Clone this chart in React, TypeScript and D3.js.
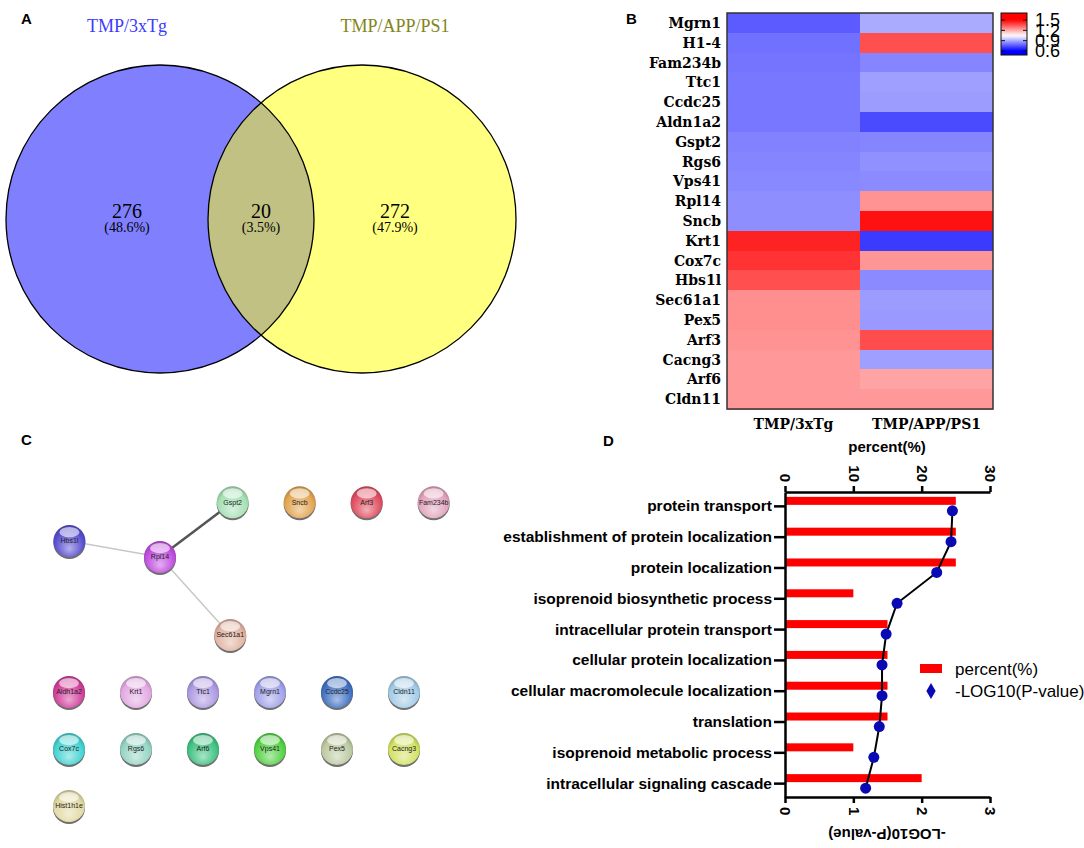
import React, { useEffect, useRef } from 'react';
import * as d3 from 'd3';

// ---- Panel A: Venn ----
const vennSets = ['TMP/3xTg', 'TMP/APP/PS1'];
const vennCounts = [276, 20, 272];
const vennPercents = ['(48.6%)', '(3.5%)', '(47.9%)'];

// ---- Panel B: heatmap ----
const genes = ['Mgrn1', 'H1-4', 'Fam234b', 'Ttc1', 'Ccdc25', 'Aldn1a2', 'Gspt2', 'Rgs6', 'Vps41', 'Rpl14',
  'Sncb', 'Krt1', 'Cox7c', 'Hbs1l', 'Sec61a1', 'Pex5', 'Arf3', 'Cacng3', 'Arf6', 'Cldn11'];
const heatColumns = ['TMP/3xTg', 'TMP/APP/PS1'];
const fc3xTg = [0.76, 0.80, 0.805, 0.81, 0.81, 0.81, 0.83, 0.835, 0.84, 0.85,
  0.85, 1.44, 1.41, 1.36, 1.25, 1.25, 1.24, 1.23, 1.23, 1.23];
const fcAppPs1 = [0.90, 1.36, 0.835, 0.88, 0.875, 0.73, 0.835, 0.855, 0.845, 1.24,
  1.47, 0.705, 1.235, 0.845, 0.875, 0.87, 1.365, 0.88, 1.21, 1.23];
const legendTicks = [1.5, 1.2, 0.9, 0.6];

// ---- Panel C: network ----
const networkNodes = ['Hbs1l', 'Rpl14', 'Gspt2', 'Sec61a1', 'Sncb', 'Arf3', 'Fam234b',
  'Aldh1a2', 'Krt1', 'Ttc1', 'Mgrn1', 'Ccdc25', 'Cldn11',
  'Cox7c', 'Rgs6', 'Arf6', 'Vps41', 'Pex5', 'Cacng3', 'Hist1h1e'];
const networkEdges: [string, string, number][] = [
  ['Hbs1l', 'Rpl14', 0.3],
  ['Rpl14', 'Gspt2', 0.9],
  ['Rpl14', 'Sec61a1', 0.3],
];
const nodePalette = ['#5a4fd0', '#c04ee0', '#a6e0b4', '#e2b4a2', '#e3a552', '#e04f62', '#e2a4bc',
  '#d2409c', '#e2aae2', '#ae9ae2', '#a2a2ea', '#4272c4', '#a4cce8',
  '#44d2d2', '#96d4c4', '#40c282', '#54d244', '#bccaa2', '#d2e262', '#e2daa4'];

// ---- Panel D: GO terms ----
const goTerms = ['protein transport', 'establishment of protein localization', 'protein localization',
  'isoprenoid biosynthetic process', 'intracellular protein transport', 'cellular protein localization',
  'cellular macromolecule localization', 'translation', 'isoprenoid metabolic process',
  'intracellular signaling cascade'];
const goPercent = [25, 25, 25, 10, 15, 15, 15, 15, 10, 20];
const goLogP = [2.45, 2.43, 2.22, 1.64, 1.48, 1.42, 1.42, 1.38, 1.30, 1.18];
const percentTicks = [0, 10, 20, 30];
const logTicks = [0, 1, 2, 3];

const SANS = '"Liberation Sans", Arial, sans-serif';
const SERIF = '"Liberation Serif", "Times New Roman", serif';
const BSERIF = '"DejaVu Serif", serif';

export default function App() {
  const ref = useRef<SVGSVGElement>(null);

  useEffect(() => {
    if (!ref.current) return;
    const svg = d3.select(ref.current);
    svg.selectAll('*').remove();
    const defs = svg.append('defs');

    // panel letters
    const letters: [string, number, number][] = [['A', 21, 24], ['B', 626, 24], ['C', 21, 445], ['D', 603, 446]];
    svg.selectAll('text.letter').data(letters).join('text')
      .attr('class', 'letter')
      .attr('x', d => d[1]).attr('y', d => d[2])
      .style('font-family', SANS).style('font-weight', 'bold').style('font-size', '15px')
      .text(d => d[0]);

    // ================= A: Venn =================
    const venn = svg.append('g');
    const r = 154;
    const vy = 219;
    const vx = d3.scalePoint().domain(vennSets).range([160, 362]);
    const x0 = vx(vennSets[0])!, x1 = vx(vennSets[1])!;

    defs.append('clipPath').attr('id', 'clipLeft')
      .append('circle').attr('cx', x0).attr('cy', vy).attr('r', r);

    venn.append('circle').attr('cx', x0).attr('cy', vy).attr('r', r).attr('fill', '#8080ff');
    venn.append('circle').attr('cx', x1).attr('cy', vy).attr('r', r).attr('fill', '#ffff80');
    venn.append('circle').attr('cx', x1).attr('cy', vy).attr('r', r).attr('fill', '#c1c184')
      .attr('clip-path', 'url(#clipLeft)');
    venn.selectAll('circle.outline').data(vennSets).join('circle')
      .attr('class', 'outline')
      .attr('cx', d => vx(d)!).attr('cy', vy).attr('r', r)
      .attr('fill', 'none').attr('stroke', '#000').attr('stroke-width', 1.3);

    const titleColors = ['#3c3cff', '#84841c'];
    venn.selectAll('text.vtitle').data(vennSets).join('text')
      .attr('class', 'vtitle')
      .attr('x', (d, i) => vx(d)! + (i === 0 ? -33 : 33)).attr('y', 32)
      .attr('text-anchor', 'middle')
      .attr('fill', (d, i) => titleColors[i])
      .style('font-family', SERIF).style('font-size', '18px')
      .text(d => d);

    const regionX = [x0 - 33, (x0 + x1) / 2, x1 + 33];
    venn.selectAll('text.vcount').data(vennCounts).join('text')
      .attr('class', 'vcount')
      .attr('x', (d, i) => regionX[i]).attr('y', 218)
      .attr('text-anchor', 'middle')
      .style('font-family', SERIF).style('font-size', '20px')
      .text(d => d);
    venn.selectAll('text.vpct').data(vennPercents).join('text')
      .attr('class', 'vpct')
      .attr('x', (d, i) => regionX[i]).attr('y', 232)
      .attr('text-anchor', 'middle')
      .style('font-family', SERIF).style('font-size', '14px')
      .text(d => d);

    // ================= B: heatmap =================
    const heat = svg.append('g');
    const hx = d3.scaleBand().domain(heatColumns).range([727, 993]);
    const hy = d3.scaleBand().domain(genes).range([13, 409]);
    const color = d3.scaleLinear<string>().domain([0.6, 1.05, 1.5])
      .range(['#0000ff', '#ffffff', '#ff0000']).clamp(true);

    const cells = genes.flatMap((g, i) => [
      { gene: g, col: heatColumns[0], v: fc3xTg[i] },
      { gene: g, col: heatColumns[1], v: fcAppPs1[i] },
    ]);
    heat.selectAll('rect.cell').data(cells).join('rect')
      .attr('class', 'cell')
      .attr('x', d => hx(d.col)!).attr('y', d => hy(d.gene)!)
      .attr('width', hx.bandwidth()).attr('height', hy.bandwidth() + 0.5)
      .attr('fill', d => color(d.v))
      .attr('shape-rendering', 'crispEdges');
    heat.append('rect')
      .attr('x', 727).attr('y', 13).attr('width', 266).attr('height', 396)
      .attr('fill', 'none').attr('stroke', '#333').attr('stroke-width', 1.5);

    heat.selectAll('text.gene').data(genes).join('text')
      .attr('class', 'gene')
      .attr('x', 721).attr('y', d => hy(d)! + hy.bandwidth() / 2)
      .attr('dy', '0.36em')
      .attr('text-anchor', 'end')
      .style('font-family', BSERIF).style('font-weight', 'bold').style('font-size', '14px')
      .text(d => d);
    heat.selectAll('text.col').data(heatColumns).join('text')
      .attr('class', 'col')
      .attr('x', d => hx(d)! + hx.bandwidth() / 2).attr('y', 429)
      .attr('text-anchor', 'middle')
      .style('font-family', BSERIF).style('font-weight', 'bold').style('font-size', '14px')
      .text(d => d);

    // colour bar
    const cbY = d3.scaleLinear().domain([0.6, 1.5]).range([51, 20]);
    const cbTop = 13, cbBot = 55, cbL = 1001, cbR = 1027;
    const grad = defs.append('linearGradient').attr('id', 'cbGrad')
      .attr('x1', 0).attr('y1', 0).attr('x2', 0).attr('y2', 1);
    d3.range(0, 1.0001, 0.05).forEach(t => {
      const v = cbY.invert(cbTop + t * (cbBot - cbTop));
      grad.append('stop').attr('offset', t).attr('stop-color', color(v));
    });
    heat.append('rect')
      .attr('x', cbL).attr('y', cbTop).attr('width', cbR - cbL).attr('height', cbBot - cbTop)
      .attr('fill', 'url(#cbGrad)').attr('stroke', '#111').attr('stroke-width', 1);
    legendTicks.forEach(t => {
      heat.append('line').attr('x1', cbL).attr('x2', cbL + 4).attr('y1', cbY(t)).attr('y2', cbY(t))
        .attr('stroke', '#111');
      heat.append('line').attr('x1', cbR - 4).attr('x2', cbR).attr('y1', cbY(t)).attr('y2', cbY(t))
        .attr('stroke', '#111');
    });
    heat.selectAll('text.cb').data(legendTicks).join('text')
      .attr('class', 'cb')
      .attr('x', 1035).attr('y', d => cbY(d)).attr('dy', '0.36em')
      .style('font-family', SANS).style('font-size', '18px')
      .text(d => d.toFixed(1));

    // ================= C: network =================
    const net = svg.append('g');
    const nodeR = 16;
    const pos = new Map<string, { x: number; y: number }>();
    const hub = { x: 160, y: 557 };
    const spokes: Record<string, [number, number]> = { Hbs1l: [190, 92], Gspt2: [-37, 91], Sec61a1: [48, 105] };
    const linked = new Set(networkEdges.flatMap(e => [e[0], e[1]]));
    pos.set('Rpl14', hub);
    Object.entries(spokes).forEach(([n, [deg, len]]) => {
      const a = (deg * Math.PI) / 180;
      pos.set(n, { x: hub.x + len * Math.cos(a), y: hub.y + len * Math.sin(a) });
    });
    const singles = networkNodes.filter(n => !linked.has(n));
    const gsp = pos.get('Gspt2')!;
    singles.slice(0, 3).forEach((n, i) => pos.set(n, { x: gsp.x + 67 * (i + 1), y: gsp.y }));
    singles.slice(3).forEach((n, i) => pos.set(n, { x: 69 + 67 * (i % 6), y: 692 + 57 * Math.floor(i / 6) }));

    net.selectAll('line.edge').data(networkEdges).join('line')
      .attr('class', 'edge')
      .attr('x1', d => pos.get(d[0])!.x).attr('y1', d => pos.get(d[0])!.y)
      .attr('x2', d => pos.get(d[1])!.x).attr('y2', d => pos.get(d[1])!.y)
      .attr('stroke', d => (d[2] > 0.5 ? '#555' : '#c8c8c8'))
      .attr('stroke-width', d => (d[2] > 0.5 ? 2.5 : 1.5));

    networkNodes.forEach((n, i) => {
      const c = nodePalette[i];
      const g = defs.append('radialGradient').attr('id', `node${i}`)
        .attr('cx', '50%').attr('cy', '60%').attr('r', '60%').attr('fx', '50%').attr('fy', '75%');
      g.append('stop').attr('offset', '0%').attr('stop-color', d3.interpolateRgb(c, '#fff')(0.55));
      g.append('stop').attr('offset', '75%').attr('stop-color', c);
      g.append('stop').attr('offset', '100%').attr('stop-color', d3.color(c)!.darker(0.7).formatHex());
    });

    const nodeG = net.selectAll('g.node').data(networkNodes).join('g')
      .attr('class', 'node')
      .attr('transform', d => `translate(${pos.get(d)!.x},${pos.get(d)!.y})`);
    nodeG.append('circle').attr('cy', 2).attr('r', nodeR).attr('fill', '#6f6f6f');
    nodeG.append('circle').attr('r', nodeR).attr('fill', (d, i) => `url(#node${i})`);
    nodeG.append('ellipse').attr('cy', -nodeR * 0.55).attr('rx', nodeR * 0.62).attr('ry', nodeR * 0.32)
      .attr('fill', '#fff').attr('opacity', 0.6);
    nodeG.append('text')
      .attr('text-anchor', 'middle').attr('dy', '0.35em')
      .style('font-family', SANS).style('font-size', '7px').attr('fill', '#222')
      .text(d => d);

    // ================= D: GO bar + line =================
    const go = svg.append('g');
    const xPct = d3.scaleLinear().domain([0, 30]).range([785, 990]);
    const xLog = d3.scaleLinear().domain([0, 3]).range([785, 990]);
    const yTerm = d3.scalePoint().domain(goTerms).range([492, 797]).padding(0.45);
    const ySub = d3.scaleBand().domain(['percent', 'log']).range([-11, 11]).padding(0.2);

    go.selectAll('rect.bar').data(goTerms).join('rect')
      .attr('class', 'bar')
      .attr('x', xPct(0)).attr('y', d => yTerm(d)! + ySub('percent')!)
      .attr('width', (d, i) => xPct(goPercent[i]) - xPct(0)).attr('height', ySub.bandwidth())
      .attr('fill', '#ff0000');

    const logY = (d: string) => yTerm(d)! + ySub('log')! + ySub.bandwidth() / 2;
    const line = d3.line<string>().x((d, i) => xLog(goLogP[i])).y(d => logY(d));
    go.append('path').datum(goTerms).attr('d', line)
      .attr('fill', 'none').attr('stroke', '#000').attr('stroke-width', 2);
    go.selectAll('circle.pt').data(goTerms).join('circle')
      .attr('class', 'pt')
      .attr('cx', (d, i) => xLog(goLogP[i])).attr('cy', d => logY(d)).attr('r', 5.5)
      .attr('fill', '#0a0ab4');

    const styleAxis = (g: d3.Selection<SVGGElement, unknown, null, undefined>) => {
      g.select('.domain').attr('stroke', '#000').attr('stroke-width', 2.5);
      g.selectAll('.tick line').attr('stroke', '#000').attr('stroke-width', 2.5);
      g.selectAll('text').attr('fill', '#000')
        .style('font-family', SANS).style('font-weight', 'bold').style('font-size', '15px');
    };

    const topAxis = go.append('g').attr('transform', 'translate(0,492)')
      .call(d3.axisTop(xPct).tickValues(percentTicks).tickSize(6).tickSizeOuter(0).tickFormat(d3.format('d')));
    styleAxis(topAxis);
    topAxis.selectAll('.tick text')
      .attr('x', 0).attr('y', 0).attr('dy', '0.35em')
      .attr('text-anchor', 'end')
      .attr('transform', 'translate(0,-10) rotate(90)');

    const botAxis = go.append('g').attr('transform', 'translate(0,797)')
      .call(d3.axisBottom(xLog).tickValues(logTicks).tickSize(6).tickSizeOuter(0).tickFormat(d3.format('d')));
    styleAxis(botAxis);
    botAxis.selectAll('.tick text')
      .attr('x', 0).attr('y', 0).attr('dy', '0.35em')
      .attr('text-anchor', 'start')
      .attr('transform', 'translate(0,10) rotate(90)');

    const leftAxis = go.append('g').attr('transform', `translate(${xPct(0)},0)`)
      .call(d3.axisLeft(yTerm).tickSize(11).tickSizeOuter(0).tickPadding(2));
    styleAxis(leftAxis);
    leftAxis.selectAll('.tick text').style('font-size', '15.5px');

    go.append('text').attr('x', 887).attr('y', 452).attr('text-anchor', 'middle')
      .style('font-family', SANS).style('font-weight', 'bold').style('font-size', '15px')
      .text('percent(%)');
    go.append('text').attr('transform', 'translate(887,834) rotate(180)')
      .attr('text-anchor', 'middle').attr('dy', '0.35em')
      .style('font-family', SANS).style('font-weight', 'bold').style('font-size', '15px')
      .text('-LOG10(P-value)');

    // legend
    const legend = go.append('g');
    legend.append('rect').attr('x', 920).attr('y', 664).attr('width', 22).attr('height', 9).attr('fill', '#ff0000');
    legend.append('path').attr('transform', 'translate(931,691)')
      .attr('d', d3.symbol(d3.symbolDiamond, 75)()!).attr('fill', '#0a0ab4');
    legend.selectAll('text').data(['percent(%)', '-LOG10(P-value)']).join('text')
      .attr('x', 955).attr('y', (d, i) => 669 + i * 22).attr('dy', '0.36em')
      .style('font-family', SANS).style('font-size', '17px')
      .text(d => d);
  }, []);

  return (
    <svg ref={ref} width={1084} height={848}
      style={{ position: 'absolute', left: 0, top: 0, background: '#fff' }} />
  );
}
